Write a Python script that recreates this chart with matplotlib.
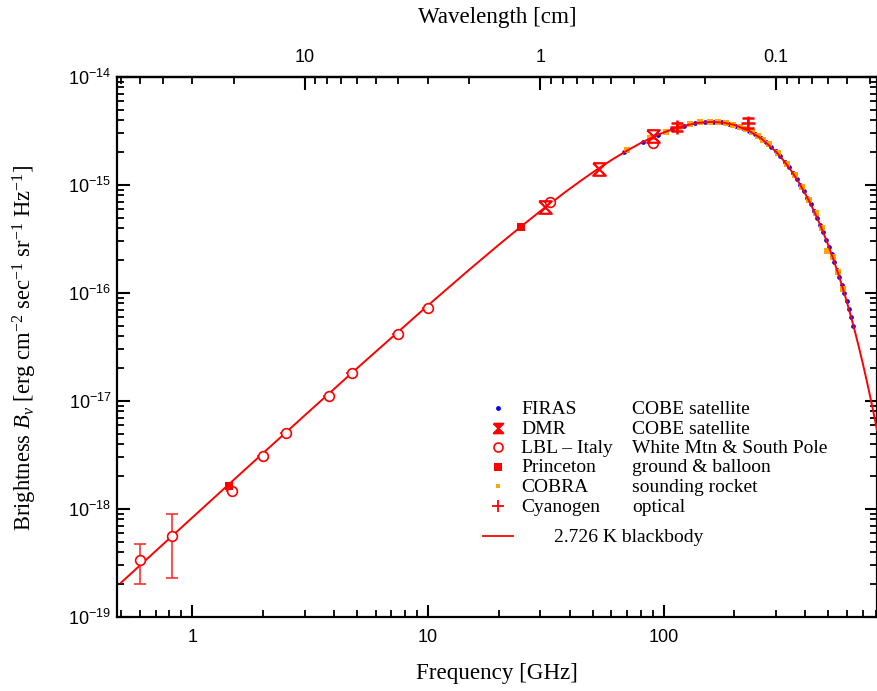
import numpy as np
import matplotlib
matplotlib.use("Agg")
import matplotlib.pyplot as plt
from matplotlib.ticker import LogLocator, FixedLocator, FixedFormatter, NullFormatter

# ---------------- data ----------------
# 2.726 K blackbody curve: frequency [GHz], brightness [erg cm^-2 s^-1 sr^-1 Hz^-1]
curve_freq = [0.5, 1, 2, 3, 5, 10, 15, 20, 25, 30, 38, 45, 52, 60, 70, 80, 90, 100,
              120, 140, 160, 180, 200, 230, 260, 300, 325, 350, 375, 400, 425, 450,
              475, 500, 525, 550, 575, 600, 625, 650, 675, 700, 725, 750, 775, 800, 805]
curve_B = [2.0845e-19, 8.301e-19, 3.291e-18, 7.339e-18, 2.003e-17, 7.659e-17, 1.6465e-16,
           2.7945e-16, 4.1665e-16, 5.7206e-16, 8.4949e-16, 1.1118e-15, 1.3839e-15,
           1.6977e-15, 2.0816e-15, 2.4436e-15, 2.7725e-15, 3.0611e-15, 3.5043e-15,
           3.7597e-15, 3.8409e-15, 3.7747e-15, 3.5938e-15, 3.1830e-15, 2.6921e-15,
           2.0342e-15, 1.6624e-15, 1.3359e-15, 1.0570e-15, 8.2556e-16, 6.3752e-16,
           4.8722e-16, 3.6894e-16, 2.7708e-16, 2.0654e-16, 1.5291e-16, 1.1251e-16,
           8.2318e-17, 5.9917e-17, 4.3397e-17, 3.1297e-17, 2.2476e-17, 1.6080e-17,
           1.1464e-17, 8.1447e-18, 5.7692e-18, 5.3828e-18]

# FIRAS (COBE satellite)
firas_freq = [68.0, 81.6, 95.2, 108.8, 122.4, 136.0, 149.6, 163.2, 176.8, 190.4, 204.0,
              217.6, 231.2, 244.8, 258.4, 272.0, 285.6, 299.2, 312.8, 326.4, 340.0, 353.6,
              367.2, 380.8, 394.4, 408.0, 421.6, 435.2, 448.8, 462.4, 476.0, 489.6, 503.2,
              516.8, 530.4, 544.0, 557.6, 571.2, 584.8, 598.4, 612.0, 625.6, 639.2]
firas_B = [2.006e-15, 2.498e-15, 2.928e-15, 3.280e-15, 3.545e-15, 3.723e-15, 3.819e-15,
           3.839e-15, 3.793e-15, 3.692e-15, 3.547e-15, 3.368e-15, 3.165e-15, 2.946e-15,
           2.719e-15, 2.490e-15, 2.265e-15, 2.047e-15, 1.839e-15, 1.643e-15, 1.461e-15,
           1.292e-15, 1.139e-15, 9.992e-16, 8.735e-16, 7.610e-16, 6.608e-16, 5.720e-16,
           4.937e-16, 4.249e-16, 3.648e-16, 3.124e-16, 2.670e-16, 2.276e-16, 1.937e-16,
           1.645e-16, 1.394e-16, 1.179e-16, 9.961e-17, 8.400e-17, 7.072e-17, 5.946e-17,
           4.991e-17]

# DMR (COBE satellite)
dmr_freq = [31.5, 53.0, 90.0]
dmr_B = [6.2e-16, 1.42e-15, 2.82e-15]

# LBL - Italy (White Mtn & South Pole)
lbl_freq = [0.60, 0.82, 1.47, 2.0, 2.5, 3.8, 4.75, 7.5, 10.0, 33.0, 90.0]
lbl_B = [3.4e-19, 5.6e-19, 1.46e-18, 3.1e-18, 5.1e-18, 1.12e-17, 1.8e-17, 4.2e-17,
         7.3e-17, 7.0e-16, 2.45e-15]
lbl_err_lo = [1.4e-19, 3.3e-19, 0, 0, 0, 0, 0, 0, 0, 0, 0]
lbl_err_hi = [1.3e-19, 3.3e-19, 0, 0, 0, 0, 0, 0, 0, 0, 0]

# Princeton (ground & balloon)
prin_freq = [1.44, 24.8]
prin_B = [1.64e-18, 4.1e-16]

# COBRA (sounding rocket)
cobra_freq = [70, 88, 102, 116, 129, 143, 157, 170, 184, 197, 211, 224, 238, 252, 265,
              279, 306, 333, 360, 388, 415, 442, 469, 496, 523, 550, 578]
cobra_B = [2.10e-15, 2.74e-15, 3.12e-15, 3.47e-15, 3.64e-15, 3.80e-15, 3.86e-15,
           3.85e-15, 3.76e-15, 3.62e-15, 3.48e-15, 3.27e-15, 3.08e-15, 2.83e-15,
           2.63e-15, 2.375e-15, 1.97e-15, 1.57e-15, 1.24e-15, 9.5e-16, 7.2e-16, 5.5e-16,
           4.0e-16, 2.45e-16, 2.15e-16, 1.55e-16, 1.10e-16]

# Cyanogen (optical)
cn_freq = [113.6, 227.3]
cn_B = [3.45e-15, 3.75e-15]
cn_err = [0.3e-15, 0.4e-15]

freq_ticks = [1, 10, 100]
freq_tick_labels = ['1', '10', '100']
wave_ticks = [10, 1, 0.1]
wave_tick_labels = ['10', '1', '0.1']
B_ticks = [1e-19, 1e-18, 1e-17, 1e-16, 1e-15, 1e-14]
B_tick_labels = [r'$\mathsf{10^{-19}}$', r'$\mathsf{10^{-18}}$', r'$\mathsf{10^{-17}}$',
                 r'$\mathsf{10^{-16}}$', r'$\mathsf{10^{-15}}$', r'$\mathsf{10^{-14}}$']

legend_rows = [("FIRAS", "COBE satellite"),
               ("DMR", "COBE satellite"),
               ("LBL \u2013 Italy", "White Mtn & South Pole"),
               ("Princeton", "ground & balloon"),
               ("COBRA", "sounding rocket"),
               ("Cyanogen", "optical")]

# ---------------- styling ----------------
plt.rcParams['mathtext.fontset'] = 'custom'
plt.rcParams['mathtext.rm'] = 'Liberation Serif'
plt.rcParams['mathtext.it'] = 'Liberation Serif:italic'
plt.rcParams['mathtext.sf'] = 'Liberation Sans'
SERIF = 'Liberation Serif'
SANS = 'Liberation Sans'
RED = '#ff0000'
ORANGE = '#ffa500'
BLUE = '#0000ff'

hourglass = [(-1, 1), (1, 1), (-1, -1), (1, -1), (-1, 1)]

W, H = 878, 691
fig = plt.figure(figsize=(W / 100, H / 100), dpi=100)
L, R, T, B = 117, 877, 77, 617
ax = fig.add_axes([L / W, 1 - B / H, (R - L) / W, (B - T) / H])
ax.set_xscale('log')
ax.set_yscale('log')
ax.set_xlim(0.48, 805)
ax.set_ylim(1e-19, 1e-14)

# data marks
ax.plot(firas_freq, firas_B, 'o', color=BLUE, ms=3.4, mew=0, zorder=2)
ax.plot(cobra_freq, cobra_B, 's', color=ORANGE, ms=3.8, mew=0, zorder=2)
ax.plot(curve_freq, curve_B, '-', color=RED, lw=1.4, zorder=3)
ax.errorbar(lbl_freq, lbl_B, yerr=[lbl_err_lo, lbl_err_hi], fmt='o', color=RED,
            mfc='white', mec=RED, ms=7, mew=1.2, ecolor='#ff3030', elinewidth=1.2,
            capsize=4, capthick=1.2, zorder=4)
ax.plot(dmr_freq, dmr_B, marker=hourglass, ls='none', color=RED, mfc='none',
        ms=9, mew=1.6, zorder=5)
ax.plot(prin_freq, prin_B, 's', color=RED, ms=6, mew=0, zorder=5)
ax.errorbar(cn_freq, cn_B, yerr=cn_err, fmt='+', color=RED, ms=10, mew=1.8,
            elinewidth=1.4, capsize=4, capthick=1.6, zorder=5)

# axes styling
for sp in ax.spines.values():
    sp.set_linewidth(1.6)
ax.tick_params(which='both', direction='in', top=False, right=True, colors='black')
ax.tick_params(which='major', length=9, width=1.5)
ax.tick_params(which='minor', length=5, width=1.3)
ax.tick_params(axis='x', which='major', pad=9, labelsize=13, labelfontfamily=SANS)
ax.tick_params(axis='y', which='major', pad=4, labelsize=13)
ax.xaxis.set_major_locator(FixedLocator(freq_ticks))
ax.xaxis.set_major_formatter(FixedFormatter(freq_tick_labels))
ax.xaxis.set_minor_locator(LogLocator(base=10, subs=np.arange(2, 10), numticks=20))
ax.xaxis.set_minor_formatter(NullFormatter())
ax.yaxis.set_major_locator(FixedLocator(B_ticks))
ax.yaxis.set_major_formatter(FixedFormatter(B_tick_labels))
ax.yaxis.set_minor_locator(LogLocator(base=10, subs=np.arange(2, 10), numticks=20))
ax.yaxis.set_minor_formatter(NullFormatter())


def f2w(f):
    f = np.asarray(f, dtype=float)
    with np.errstate(divide='ignore'):
        return 30.0 / f


secax = ax.secondary_xaxis('top', functions=(f2w, f2w))
secax.set_xticks(wave_ticks, wave_tick_labels)
secax.xaxis.set_minor_formatter(NullFormatter())
secax.tick_params(which='both', direction='in')
secax.tick_params(which='major', length=9, width=1.5, pad=8, labelsize=13,
                  labelfontfamily=SANS)
secax.tick_params(which='minor', length=5, width=1.3)
secax.spines['top'].set_linewidth(1.6)

# axis titles
fig.text(497 / W, 1 - 17 / H, 'Wavelength [cm]', family=SERIF, fontsize=16.6,
         ha='center', va='center')
fig.text(497 / W, 1 - 674 / H, 'Frequency [GHz]', family=SERIF, fontsize=16.6,
         ha='center', va='center')
fig.text(25 / W, 1 - 348 / H,
         r'Brightness $B_\nu$ [erg cm$^{-2}$ sec$^{-1}$ sr$^{-1}$ Hz$^{-1}$]',
         family=SERIF, fontsize=16.3, rotation=90, ha='center', va='center')

# legend (drawn manually)
row_y = [408, 427.5, 447, 466.5, 486, 505.5]
mx, c1, c2 = 498, 521, 632
styles = [dict(marker='o', color=BLUE, ms=3.5, mew=0),
          dict(marker=hourglass, color=RED, mfc=RED, ms=7, mew=1.4),
          dict(marker='o', color=RED, mfc='white', ms=6.5, mew=1.2),
          dict(marker='s', color=RED, ms=6, mew=0),
          dict(marker='s', color=ORANGE, ms=3.5, mew=0),
          dict(marker='+', color=RED, ms=9, mew=1.3)]
for (name, desc), yy, st in zip(legend_rows, row_y, styles):
    fig.lines.append(plt.Line2D([mx / W], [1 - yy / H], transform=fig.transFigure,
                                ls='none', **st))
    fig.text(c1 / W, 1 - (yy + 6) / H, name, family=SERIF, fontsize=14,
             ha='left', va='baseline')
    fig.text(c2 / W, 1 - (yy + 6) / H, desc, family=SERIF, fontsize=14,
             ha='left', va='baseline')
fig.lines.append(plt.Line2D([483 / W, 513 / W], [1 - 535.5 / H] * 2,
                            transform=fig.transFigure, color=RED, lw=1.3))
fig.text(554 / W, 1 - 541.5 / H, '2.726 K blackbody', family=SERIF, fontsize=14,
         ha='left', va='baseline')

fig.savefig('out.png', dpi=100)
